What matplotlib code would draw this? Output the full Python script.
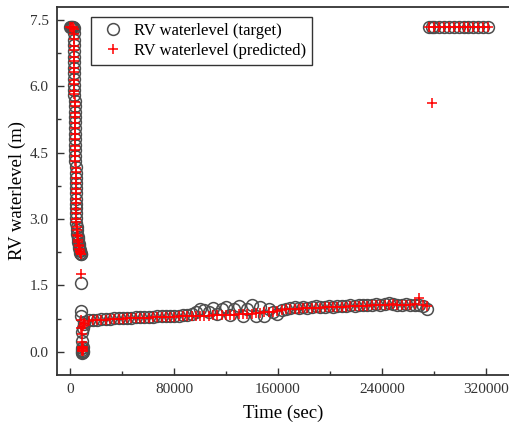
import numpy as np
import matplotlib.pyplot as plt
from matplotlib.ticker import MultipleLocator
from matplotlib.lines import Line2D
from matplotlib.legend_handler import HandlerLine2D

plt.rcParams['font.family'] = ['Liberation Serif', 'DejaVu Serif']

# drain phase: level falls from the full value
t_drain = [0, 900, 1800, 2500,
           2700, 2760, 2820, 2880, 2950, 3010, 3070, 3130, 3200, 3260,
           3320, 3380, 3450, 3510, 3570, 3630, 3700, 3760, 3820, 3880,
           3950, 4010, 4070, 4130, 4200, 4260, 4320, 4380, 4450, 4510,
           4570, 4630, 4700, 4760, 4820, 4880, 4950,
           5150, 5400, 5650, 5900, 6150, 6400, 6650, 6900, 7150, 7400,
           7650, 7900, 8150, 8400]
y_drain_target = [7.33, 7.33, 7.33, 7.33,
                  7.31, 7.20, 7.05, 6.92, 6.80, 6.66, 6.55, 6.42, 6.30, 6.17,
                  6.03, 5.92, 5.80, 5.66, 5.55, 5.42, 5.30, 5.18, 5.05, 4.93,
                  4.80, 4.68, 4.55, 4.43, 4.30, 4.18, 4.05, 3.93, 3.81, 3.70,
                  3.58, 3.46, 3.35, 3.24, 3.13, 3.02, 2.92,
                  2.83, 2.75, 2.67, 2.60, 2.54, 2.48, 2.43, 2.38, 2.34, 2.30,
                  2.27, 2.24, 2.22, 2.20]
y_drain_pred = [7.33, 7.33, 7.32, 7.33,
                7.30, 7.18, 7.06, 6.90, 6.81, 6.65, 6.56, 6.40, 6.31, 6.15,
                6.05, 5.90, 5.82, 5.65, 5.56, 5.40, 5.31, 5.16, 5.06, 4.92,
                4.81, 4.66, 4.56, 4.42, 4.31, 4.16, 4.06, 3.92, 3.82, 3.68,
                3.59, 3.45, 3.36, 3.22, 3.14, 3.00, 2.93,
                2.81, 2.76, 2.65, 2.61, 2.52, 2.49, 2.41, 2.39, 2.32, 2.31,
                2.25, 2.25, 2.20, 2.21]

# sudden drop to the bottom
t_drop = [8600, 8700, 8800, 8900, 9000, 9100, 9250, 9400, 9550, 9700,
          9850, 10000, 10200, 10600]
y_drop_target = [1.55, 0.93, 0.80, 0.46, 0.25, 0.05, 0.00, -0.02, 0.08,
                 0.12, 0.03, 0.00, 0.55, 0.64]
y_drop_pred = [1.75, 0.72, 0.55, 0.40, 0.22, 0.08, 0.03, 0.05, 0.10,
               0.06, 0.02, 0.12, 0.58, 0.62]

# slow recovery
t_rise = [11000, 14300, 17600, 20900, 24200, 27500, 30800, 34100, 37400,
          40700, 44000, 47300, 50600, 53900, 57200, 60500, 63800, 67100,
          70400, 73700, 77000, 80300, 83600, 86900, 90200, 93500, 96800,
          100100, 103400, 106700, 110000, 113300, 116600, 119900, 123200,
          126500, 129800, 133100, 136400, 139700, 143000, 146300, 149600,
          152900, 156200, 159500, 162800, 166100, 169400, 172700, 176000,
          179300, 182600, 185900, 189200, 192500, 195800, 199100, 202400,
          205700, 209000, 212300, 215600, 218900, 222200, 225500, 228800,
          232100, 235400, 238700, 242000, 245300, 248600, 251900, 255200,
          258500, 261800, 265100, 268400, 271700, 275000]
y_rise_target = [0.68, 0.71, 0.72, 0.73, 0.74, 0.74, 0.75, 0.76, 0.76, 0.77,
                 0.77, 0.77, 0.78, 0.78, 0.79, 0.79, 0.79, 0.80, 0.80, 0.81,
                 0.81, 0.82, 0.82, 0.83, 0.84, 0.86, 0.90, 0.98, 0.95, 0.90,
                 1.00, 0.86, 0.96, 1.02, 0.84, 0.98, 1.04, 0.80, 0.96, 1.05,
                 0.80, 1.02, 0.82, 0.98, 0.90, 0.86, 0.95, 0.98, 1.00, 1.02,
                 1.00, 1.01, 1.00, 1.02, 1.03, 1.01, 1.02, 1.03, 1.02, 1.04,
                 1.03, 1.04, 1.05, 1.04, 1.05, 1.06, 1.05, 1.07, 1.08, 1.07,
                 1.09, 1.10, 1.08, 1.06, 1.05, 1.08, 1.07, 1.06, 1.05, 1.04,
                 0.98]
y_rise_pred = [0.66, 0.69, 0.71, 0.72, 0.73, 0.73, 0.74, 0.74, 0.75, 0.75,
               0.76, 0.76, 0.76, 0.77, 0.77, 0.77, 0.78, 0.78, 0.78, 0.79,
               0.79, 0.79, 0.80, 0.80, 0.80, 0.81, 0.81, 0.82, 0.82, 0.82,
               0.83, 0.83, 0.83, 0.84, 0.84, 0.84, 0.85, 0.85, 0.86, 0.86,
               0.87, 0.88, 0.89, 0.90, 0.91, 0.92, 0.94, 0.96, 0.97, 0.98,
               0.98, 0.99, 0.99, 1.00, 1.00, 1.00, 1.01, 1.01, 1.01, 1.02,
               1.02, 1.02, 1.03, 1.03, 1.03, 1.04, 1.04, 1.05, 1.05, 1.06,
               1.06, 1.07, 1.08, 1.07, 1.06, 1.06, 1.07, 1.08, 1.22, 1.06,
               1.04]

# refilled
t_full = [276500, 278200, 280250, 284000, 287750, 291500, 295250, 299000,
          302750, 306500, 310250, 314000, 317750, 321500]
y_full_target = [7.33, 7.33, 7.33, 7.33, 7.33, 7.33, 7.33, 7.33, 7.33,
                 7.33, 7.33, 7.33, 7.33, 7.33]
y_full_pred = [7.33, 5.63, 7.33, 7.33, 7.33, 7.33, 7.33, 7.33, 7.33,
               7.33, 7.33, 7.33, 7.33, 7.33]

t_all = t_drain + t_drop + t_rise + t_full
target = y_drain_target + y_drop_target + y_rise_target + y_full_target
pred = y_drain_pred + y_drop_pred + y_rise_pred + y_full_pred


class MarkerRight(HandlerLine2D):
    # put the legend marker near the right end of the handle box
    def get_xdata(self, legend, xdescent, ydescent, width, height, fontsize):
        return [-xdescent, -xdescent + width], [-xdescent + 0.84 * width]


fig = plt.figure(figsize=(5.09, 4.29), dpi=100)
ax = fig.add_axes([0.112, 0.126, 0.888, 0.858])

ax.plot(t_all, target, ls='none', marker='o', ms=8.5, mfc='none',
        mec='#4d4d4d', mew=1.1, label='RV waterlevel (target)')
ax.plot(t_all, pred, ls='none', marker='+', ms=7.5, mec='#ff0000',
        mew=1.1, label='RV waterlevel (predicted)')

ax.set_xlim(-10000, 337700)
ax.set_ylim(-0.52, 7.79)
ax.xaxis.set_major_locator(MultipleLocator(80000))
ax.xaxis.set_minor_locator(MultipleLocator(40000))
ax.yaxis.set_major_locator(MultipleLocator(1.5))
ax.yaxis.set_minor_locator(MultipleLocator(0.75))
ax.yaxis.set_major_formatter(plt.FormatStrFormatter('%.1f'))

ax.tick_params(which='both', direction='in', top=False, right=False,
               colors='#333333', labelsize=11, width=1.0)
ax.tick_params(which='major', length=5, pad=6)
ax.tick_params(which='minor', length=3)
ax.spines['right'].set_visible(False)
for s in ['left', 'bottom', 'top']:
    ax.spines[s].set_linewidth(1.3)
    ax.spines[s].set_color('#333333')

ax.set_xlabel('Time (sec)', fontsize=13.5, labelpad=6)
ax.set_ylabel('RV waterlevel (m)', fontsize=13.5, labelpad=3)

leg = ax.legend(loc='upper left', bbox_to_anchor=(0.076, 0.972),
                fontsize=12, fancybox=False, framealpha=1,
                edgecolor='#333333', handlelength=1.9, handletextpad=0.3,
                borderpad=0.35, labelspacing=0.25, borderaxespad=0,
                handler_map={Line2D: MarkerRight()})
leg.get_frame().set_linewidth(1.0)

fig.savefig('out.png', dpi=100)
